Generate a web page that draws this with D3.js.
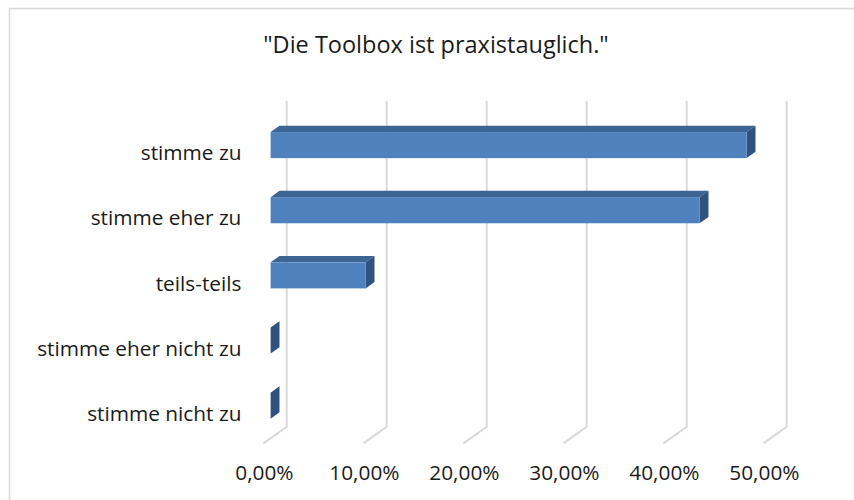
<!DOCTYPE html>
<html>
<head>
<meta charset="utf-8">
<script src="https://cdn.jsdelivr.net/npm/d3@7"></script>
<style>
  html, body { margin: 0; padding: 0; background: #fff; }
  svg { display: block; }
</style>
</head>
<body>
<div id="chartContainer"></div>
<script>
const categories = ["stimme zu", "stimme eher zu", "teils-teils", "stimme eher nicht zu", "stimme nicht zu"];
const values = [0.476, 0.429, 0.095, 0, 0];
const ticks = [0, 0.1, 0.2, 0.3, 0.4, 0.5];
const title = "\"Die Toolbox ist praxistauglich.\"";

const width = 854;
const height = 500;
// back wall of the 3d plot
const wallLeft = 286.7, wallRight = 786.7;
const wallTop = 101, wallBottom = 426.7;
// depth vector (back -> front)
const depthX = -23.3, depthY = 16.7;
const tFront = 0.69, tBack = 0.31;

const x = d3.scaleLinear()
  .domain([0, 0.5])
  .range([wallLeft, wallRight]);

const y = d3.scaleBand()
  .domain(categories)
  .range([wallTop, wallBottom])
  .paddingInner(0.6)
  .paddingOuter(0.3);

const fmt = d => d3.format(".2f")(d * 100).replace(".", ",") + "%";

const svg = d3.create("svg")
  .attr("width", width)
  .attr("height", height)
  .attr("viewBox", [0, 0, width, height])
  .style("font-family", "'Open Sans', sans-serif");

document.getElementById("chartContainer").appendChild(svg.node());

// chart border
svg.append("rect")
  .attr("x", 9.5)
  .attr("y", 8.5)
  .attr("width", width + 10)
  .attr("height", height + 10)
  .attr("fill", "#fff")
  .attr("stroke", "#d9d9d9")
  .attr("stroke-width", 1.5);

// gridlines: vertical on back wall, then along floor to the front
svg.append("g")
  .attr("fill", "none")
  .attr("stroke", "#d9d9d9")
  .attr("stroke-width", 2)
  .selectAll("path")
  .data(ticks)
  .join("path")
  .attr("d", d => {
    const p = d3.path();
    p.moveTo(x(d), wallTop);
    p.lineTo(x(d), wallBottom);
    p.lineTo(x(d) + depthX, wallBottom + depthY);
    return p.toString();
  });

// 3d bars
const bars = svg.append("g")
  .selectAll("g")
  .data(categories.map((c, i) => ({ cat: c, value: values[i] })))
  .join("g");

const pt = (xv, yv, t) => [xv + t * depthX, yv + t * depthY];

// top face
bars.append("path")
  .attr("fill", "#3c6594")
  .attr("d", d => {
    const y0 = y(d.cat);
    return "M" + [pt(x(0), y0, tFront), pt(x(d.value), y0, tFront),
      pt(x(d.value), y0, tBack), pt(x(0), y0, tBack)].join("L") + "Z";
  });

// side face
bars.append("path")
  .attr("fill", "#2f5280")
  .attr("d", d => {
    const y0 = y(d.cat), y1 = y0 + y.bandwidth();
    return "M" + [pt(x(d.value), y0, tFront), pt(x(d.value), y0, tBack),
      pt(x(d.value), y1, tBack), pt(x(d.value), y1, tFront)].join("L") + "Z";
  });

// front face
bars.append("rect")
  .attr("fill", "#4f81bd")
  .attr("x", d => pt(x(0), 0, tFront)[0])
  .attr("y", d => pt(0, y(d.cat), tFront)[1])
  .attr("width", d => x(d.value) - x(0))
  .attr("height", y.bandwidth());

// category labels
svg.append("g")
  .attr("text-anchor", "end")
  .attr("fill", "#1a1a1a")
  .style("font-size", "20.8px")
  .selectAll("text")
  .data(categories)
  .join("text")
  .attr("x", x(0) + depthX - 22)
  .attr("y", d => y(d) + y.bandwidth() / 2 + depthY + 10)
  .text(d => d);

// value axis labels
svg.append("g")
  .attr("text-anchor", "middle")
  .attr("fill", "#1a1a1a")
  .style("font-size", "20.8px")
  .selectAll("text")
  .data(ticks)
  .join("text")
  .attr("x", d => x(d) + depthX + 1)
  .attr("y", 480)
  .text(fmt);

// title
svg.append("text")
  .attr("x", 436)
  .attr("y", 53)
  .attr("text-anchor", "middle")
  .attr("fill", "#1a1a1a")
  .style("font-size", "23.5px")
  .text(title);
</script>
</body>
</html>
